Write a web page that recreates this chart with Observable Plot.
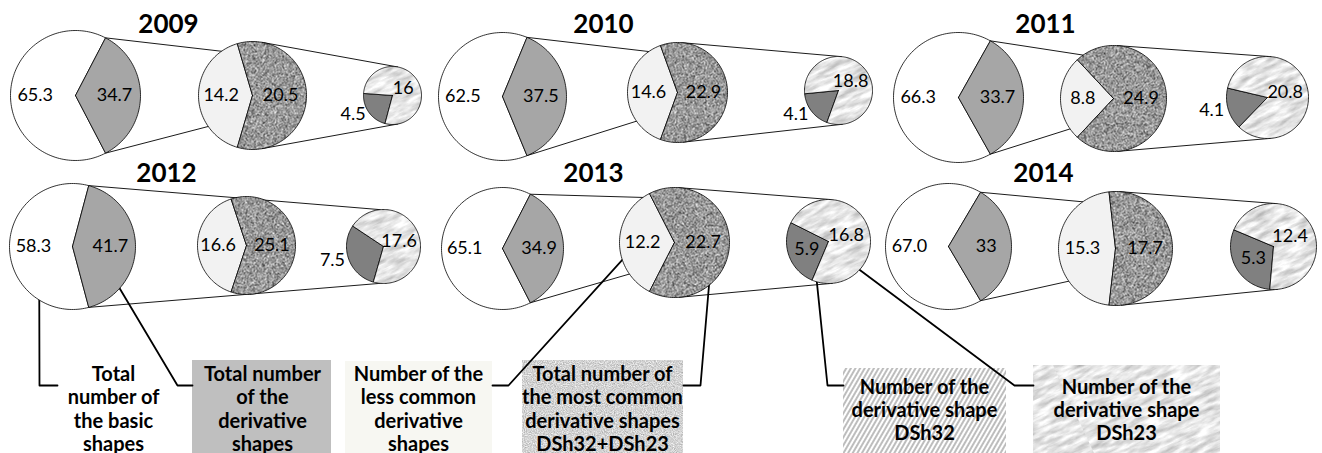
<!DOCTYPE html>
<html><head><meta charset="utf-8">
<script src="https://cdn.jsdelivr.net/npm/d3@7"></script>
<script src="https://cdn.jsdelivr.net/npm/@observablehq/plot@0.6"></script>
<style>body{margin:0;background:#fff}</style>
</head><body>
<svg width="0" height="0" style="position:absolute">
<defs>
  <filter id="fNoise" x="0" y="0" width="100%" height="100%" color-interpolation-filters="sRGB">
    <feTurbulence type="fractalNoise" baseFrequency="1.1" numOctaves="2" seed="3"/>
    <feColorMatrix type="matrix" values="1.8 0 0 0 -0.3  1.8 0 0 0 -0.3  1.8 0 0 0 -0.3  0 0 0 0 1"/>
  </filter>
  <filter id="fNoiseLight" x="0" y="0" width="100%" height="100%" color-interpolation-filters="sRGB">
    <feTurbulence type="fractalNoise" baseFrequency="0.9" numOctaves="2" seed="5"/>
    <feColorMatrix type="matrix" values="0.45 0 0 0 0.6  0.45 0 0 0 0.6  0.45 0 0 0 0.6  0 0 0 0 1"/>
  </filter>
  <filter id="fMarble" x="0" y="0" width="100%" height="100%" color-interpolation-filters="sRGB">
    <feTurbulence type="fractalNoise" baseFrequency="0.05 0.2" numOctaves="4" seed="7"/>
    <feColorMatrix type="matrix" values="0.5 0 0 0 0.65  0.5 0 0 0 0.65  0.5 0 0 0 0.65  0 0 0 0 1"/>
  </filter>
  <pattern id="noise" patternUnits="userSpaceOnUse" width="400" height="400">
    <rect width="400" height="400" filter="url(#fNoise)"/>
  </pattern>
  <pattern id="noiseLight" patternUnits="userSpaceOnUse" width="400" height="400">
    <rect width="400" height="400" filter="url(#fNoiseLight)"/>
  </pattern>
  <pattern id="marble" patternUnits="userSpaceOnUse" width="400" height="400" patternTransform="rotate(-25)">
    <rect width="400" height="400" filter="url(#fMarble)"/>
  </pattern>
  <pattern id="hatch" patternUnits="userSpaceOnUse" width="4" height="4" patternTransform="rotate(30)">
    <rect width="4" height="4" fill="#fff"/>
    <line x1="1" y1="0" x2="1" y2="4" stroke="#9a9a9a" stroke-width="1.3"/>
  </pattern>
</defs>
</svg>
<div id="chart"></div>
<script>
// ---------- data ----------
const years = ["2009", "2010", "2011", "2012", "2013", "2014"];
const basicShapes = [65.3, 62.5, 66.3, 58.3, 65.1, 67.0];
const derivativeShapes = [34.7, 37.5, 33.7, 41.7, 34.9, 33];
const lessCommon = [14.2, 14.6, 8.8, 16.6, 12.2, 15.3];
const mostCommon = [20.5, 22.9, 24.9, 25.1, 22.7, 17.7];
const dsh32 = [4.5, 4.1, 4.1, 7.5, 5.9, 5.3];
const dsh23 = [16, 18.8, 20.8, 17.6, 16.8, 12.4];
const legendLabels = [
  "Total\nnumber of\nthe basic\nshapes",
  "Total number\nof the\nderivative\nshapes",
  "Number of the\nless common\nderivative\nshapes",
  "Total number of\nthe most common\nderivative shapes\nDSh32+DSh23",
  "Number of the\nderivative shape\nDSh32",
  "Number of the\nderivative shape\nDSh23"
];

// ---------- layout ----------
const panelLayout = [
  {cx: [75, 252, 392],    cy: [95, 95, 95],    r: [65, 54, 29], title: [168, 24],    darkEnd: 255, darkOut: true},
  {cx: [502, 677, 838],   cy: [96, 92, 90],    r: [64, 50, 34], title: [603, 24],    darkEnd: 250, darkOut: true},
  {cx: [958, 1113, 1267], cy: [97, 98, 97],    r: [65, 53, 41], title: [1045, 24],   darkEnd: 226, darkOut: true},
  {cx: [72, 246, 383],    cy: [246, 245, 246], r: [63, 49, 37], title: [166, 173.5], darkEnd: 254, darkOut: true, direct: true},
  {cx: [502, 674, 828],   cy: [248, 242, 241], r: [61, 55, 42], title: [593, 173.5], darkEnd: 247, darkOut: false},
  {cx: [948, 1115, 1273], cy: [246, 248, 246], r: [63, 57, 43], title: [1043, 173.5], darkEnd: 265, darkOut: false}
];
const legendLayout = [
  {box: null, fill: "none", tx: 113, ty: 408, target: {panel: 3, circle: 0, angle: 219, f: 0.68}, corner: [39, 385], end: 57},
  {box: [192, 331, 360, 453], fill: "#bfbfbf", tx: 262, ty: 408, target: {panel: 3, circle: 0, angle: 320, f: 0.92}, corner: [177, 385], end: 192},
  {box: [345, 492, 361, 453], fill: "#f7f7f2", tx: 418, ty: 408, target: {panel: 4, circle: 1, angle: 193, f: 0.86}, corner: [508, 385], end: 492},
  {box: [522, 683, 360, 453], fill: "url(#noiseLight)", tx: 602, ty: 408, target: {panel: 4, circle: 1, angle: 310, f: 0.98}, corner: [700, 385], end: 683},
  {box: [843, 1006, 368, 453], fill: "url(#hatch)", tx: 924, ty: 409, target: {panel: 4, circle: 2, angle: 243, f: 0.69}, corner: [827, 385], end: 843},
  {box: [1033, 1220, 365, 453], fill: "url(#marble)", tx: 1126, ty: 409, target: {panel: 4, circle: 2, angle: 316, f: 0.76}, corner: [1014, 385], end: 1033}
];
const FONT = "Lato, 'Open Sans', sans-serif";

// ---------- geometry helpers ----------
const rad = a => a * Math.PI / 180;
const P = (c, a, f = 1) => [c.x + c.r * f * Math.cos(rad(a)), c.y - c.r * f * Math.sin(rad(a))];
const circles = i => [0, 1, 2].map(k => ({x: panelLayout[i].cx[k], y: panelLayout[i].cy[k], r: panelLayout[i].r[k]}));

const slices = {basic: [], deriv: [], less: [], most: [], d32: [], d23: []};
function addSlice(key, id, c, a0, a1) {
  const arr = slices[key];
  arr.push({id, x: c.x, y: c.y});
  const n = Math.max(2, Math.ceil((a1 - a0) / 2));
  for (let k = 0; k <= n; k++) {
    const [x, y] = P(c, a0 + (a1 - a0) * k / n);
    arr.push({id, x, y});
  }
  arr.push({id, x: c.x, y: c.y});
}
const connectors = [];
function addLine(id, pts) { pts.forEach(([x, y]) => connectors.push({id, x, y})); }
function tangents(c1, c2) {
  const dx = c2.x - c1.x, dy = -(c2.y - c1.y);
  const D = Math.hypot(dx, dy);
  const phi = Math.atan2(dy, dx) * 180 / Math.PI;
  const al = Math.acos((c1.r - c2.r) / D) * 180 / Math.PI;
  return [[P(c1, phi + al), P(c2, phi + al)], [P(c1, phi - al), P(c2, phi - al)]];
}

const labelsC = [], labelsE = [], titles = [];
years.forEach((yr, i) => {
  const L = panelLayout[i];
  const [big, mid, sm] = circles(i);
  const hd = derivativeShapes[i] / (basicShapes[i] + derivativeShapes[i]) * 180;
  addSlice("deriv", yr + "d", big, -hd, hd);
  addSlice("basic", yr + "b", big, hd, 360 - hd);
  const hl = lessCommon[i] / (lessCommon[i] + mostCommon[i]) * 180;
  addSlice("less", yr + "l", mid, 180 - hl, 180 + hl);
  addSlice("most", yr + "m", mid, 180 + hl, 540 - hl);
  const span = dsh32[i] / (dsh32[i] + dsh23[i]) * 360;
  const d0 = L.darkEnd - span, d1 = L.darkEnd;
  addSlice("d32", yr + "k", sm, d0, d1);
  addSlice("d23", yr + "w", sm, d1, d0 + 360);

  // connectors
  const bigTop = P(big, hd), bigBot = P(big, -hd);
  if (L.direct) {
    addLine(yr + "c1", [bigTop, P(sm, 95)]);
    addLine(yr + "c2", [bigBot, P(sm, 265)]);
  } else {
    addLine(yr + "c1", [bigTop, P(mid, 125)]);
    addLine(yr + "c2", [bigBot, P(mid, 215)]);
    const [t, b] = tangents(mid, sm);
    addLine(yr + "c3", t);
    addLine(yr + "c4", b);
  }

  // labels
  const push = (arr, p, text) => arr.push({x: p[0], y: p[1], text});
  push(labelsC, P(big, 180, 0.62), basicShapes[i].toFixed(1));
  push(labelsC, P(big, 0, 0.6), String(derivativeShapes[i]));
  push(labelsC, P(mid, 180, 0.58), String(lessCommon[i]));
  push(labelsC, P(mid, 0, 0.52), String(mostCommon[i]));
  push(labelsC, P(sm, (d1 + d0 + 360) / 2, 0.45), String(dsh23[i]));
  const dm = (d0 + d1) / 2;
  if (L.darkOut) {
    const c2 = {...sm, r: sm.r + 4};
    push(labelsE, P(c2, dm), String(dsh32[i]));
  } else {
    push(labelsC, P(sm, dm, 0.55), String(dsh32[i]));
  }
  titles.push({x: L.title[0], y: L.title[1], text: yr});
});

// legend
const leaders = [];
const boxMarks = [];
const legendText = [];
legendLayout.forEach((g, j) => {
  const c = circles(g.target.panel)[g.target.circle];
  const s = P(c, g.target.angle, g.target.f);
  [s, g.corner, [g.end, g.corner[1]]].forEach(([x, y]) => leaders.push({id: "L" + j, x, y}));
  if (g.box) {
    boxMarks.push(Plot.rect([g.box], {x1: d => d[0], x2: d => d[1], y1: d => d[2], y2: d => d[3], fill: g.fill}));
  }
  legendText.push({x: g.tx, y: g.ty, text: legendLabels[j]});
});

const sliceStyle = {x: "x", y: "y", z: "id", stroke: "#000", strokeWidth: 0.8};
const chart = Plot.plot({
  width: 1322,
  height: 453,
  margin: 0,
  x: {domain: [0, 1322], range: [0, 1322], axis: null},
  y: {domain: [0, 453], range: [0, 453], axis: null},
  style: {fontFamily: FONT, background: "#fff", overflow: "visible"},
  marks: [
    ...boxMarks,
    Plot.line(connectors, {x: "x", y: "y", z: "id", stroke: "#000", strokeWidth: 0.9}),
    Plot.line(leaders, {x: "x", y: "y", z: "id", stroke: "#000", strokeWidth: 1.8}),
    Plot.line(slices.basic, {...sliceStyle, fill: "#ffffff"}),
    Plot.line(slices.deriv, {...sliceStyle, fill: "#a6a6a6"}),
    Plot.line(slices.less, {...sliceStyle, fill: "#f2f2f2"}),
    Plot.line(slices.most, {...sliceStyle, fill: "url(#noise)"}),
    Plot.line(slices.d32, {...sliceStyle, fill: "#808080"}),
    Plot.line(slices.d23, {...sliceStyle, fill: "url(#marble)"}),
    Plot.text(labelsC, {x: "x", y: "y", text: "text", fontSize: 18, fill: "#000", fontFamily: FONT}),
    Plot.text(labelsE, {x: "x", y: "y", text: "text", fontSize: 18, fill: "#000", textAnchor: "end", fontFamily: FONT}),
    Plot.text(titles, {x: "x", y: "y", text: "text", fontSize: 26, fontWeight: "bold", fill: "#000", fontFamily: FONT}),
    Plot.text(legendText, {x: "x", y: "y", text: "text", fontSize: 20, fontWeight: "bold", lineHeight: 1.17, fill: "#000", fontFamily: FONT})
  ]
});
document.getElementById("chart").append(chart);
</script>
</body></html>
